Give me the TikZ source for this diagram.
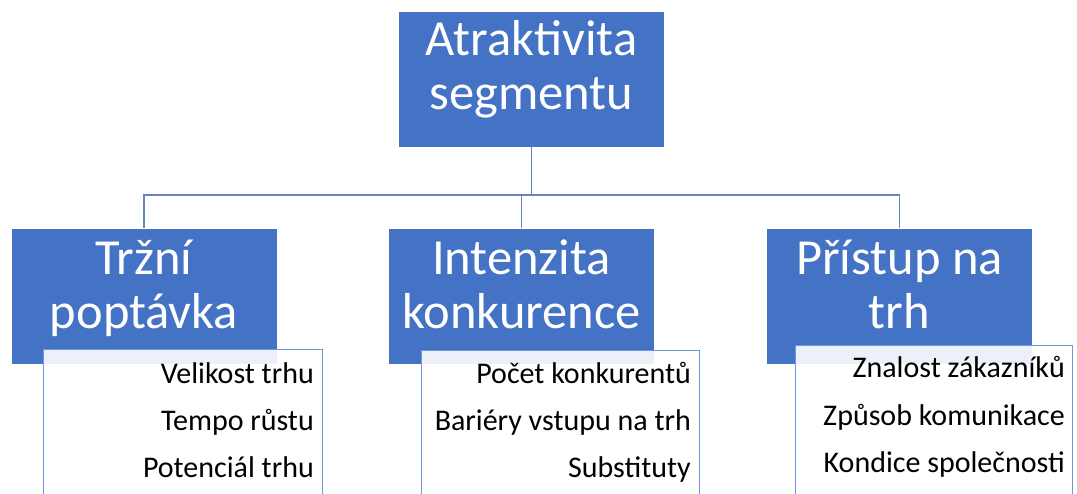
\documentclass[tikz,border=0pt]{standalone}
\usepackage{fontspec}
\setmainfont{Carlito}
\definecolor{boxblue}{HTML}{4472C4}
\definecolor{connblue}{RGB}{104,132,192}
\definecolor{subedge}{RGB}{114,150,220}
\begin{document}
\begin{tikzpicture}[x=1pt,y=-1pt,
  mainbox/.style={rectangle,fill=boxblue,draw=white,line width=0.6pt,
    minimum width=266pt,minimum height=136pt,inner sep=0pt},
  maintext/.style={text=white,align=center,inner sep=0pt,font=\fontsize{50.5}{54}\selectfont},
  subbox/.style={rectangle,draw=subedge,line width=1pt,fill=white,fill opacity=0.9,anchor=north west,inner sep=0pt},
  item/.style={anchor=base east,inner sep=0pt,text=black,font=\fontsize{30}{35}\selectfont},
  conn/.style={draw=connblue,line width=1.3pt}]
\useasboundingbox (0,0) rectangle (1077,493);
\clip (0,0) rectangle (1077,493);
\node[mainbox] (top) at (531.5,79) {};
\node[mainbox] (left) at (144,296) {};
\node[mainbox] (mid) at (521.5,296) {};
\node[mainbox] (right) at (899.5,296) {};
\node[maintext] (toptext) at ([yshift=7.5pt]top.center) {\strut Atraktivita\\segmentu\strut};
\node[maintext] (lefttext) at ([yshift=5pt]left.center) {\strut Tržní\\poptávka\strut};
\node[maintext] (midtext) at ([yshift=5pt]mid.center) {\strut Intenzita\\konkurence\strut};
\node[maintext] (righttext) at ([yshift=5pt]right.center) {\strut Přístup na\\trh\strut};
\coordinate (bus) at (0,195);
\draw[conn] (top.south) -- (top.south |- bus);
\draw[conn] (left.north) |- (right.north |- bus) -- (right.north);
\draw[conn] (mid.north) -- (mid.north |- bus);
\node[subbox,minimum width=279pt,minimum height=170pt] (lsub) at (43,349) {};
\node[subbox,minimum width=278pt,minimum height=170pt] (msub) at (421,350) {};
\node[subbox,minimum width=277pt,minimum height=170pt] (rsub) at (795,345) {};
\node[item] (l1) at (314,383) {Velikost trhu};
\node[item] (l2) at (314,430) {Tempo růstu};
\node[item] (l3) at (314,477) {Potenciál trhu};
\node[item] (m1) at (691,383) {Počet konkurentů};
\node[item] (m2) at (691,430) {Bariéry vstupu na trh};
\node[item] (m3) at (691,477) {Substituty};
\node[item] (r1) at (1065,377) {Znalost zákazníků};
\node[item] (r2) at (1065,425) {Způsob komunikace};
\node[item] (r3) at (1065,472) {Kondice společnosti};
\end{tikzpicture}
\end{document}
